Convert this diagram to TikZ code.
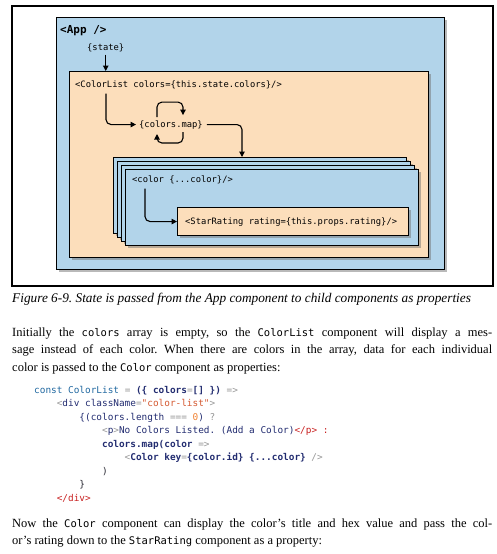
\documentclass[tikz,border=0pt]{standalone}
\usepackage{fontspec}
\setmainfont{Liberation Serif}
\setmonofont{DejaVu Sans Mono}
\usetikzlibrary{arrows.meta,shadows,positioning}

\definecolor{appblue}{RGB}{178,212,234}
\definecolor{listpeach}{RGB}{252,222,187}
\definecolor{kwblue}{RGB}{32,104,160}
\definecolor{navy}{RGB}{34,44,112}
\definecolor{punct}{RGB}{150,150,150}
\definecolor{strorange}{RGB}{212,88,48}
\definecolor{numorange}{RGB}{240,130,50}
\definecolor{tagred}{RGB}{200,32,32}
\definecolor{codedark}{RGB}{40,40,50}

\newcommand\inl[1]{{\fontsize{10.5pt}{17.5pt}\selectfont\ttfamily #1}}
\newcommand\ind{\hspace*{2.408em}}
\frenchspacing

\begin{document}
\begin{tikzpicture}
  [x=1pt,y=-1pt,>={Triangle[length=5.5pt,width=5.5pt]},
   box/.style={draw=black,line width=1.1pt,anchor=north west,inner sep=0pt,
     drop shadow={shadow xshift=2pt,shadow yshift=-2pt,opacity=.5,fill=black!55}},
   blue box/.style={box,fill=appblue},
   peach box/.style={box,fill=listpeach},
   tag/.style={font=\fontsize{8.8pt}{10pt}\selectfont\ttfamily,anchor=base west,inner sep=0pt},
   flow/.style={->,line width=1.1pt,rounded corners=5pt},
   body/.style={font=\fontsize{12.5pt}{17.5pt}\selectfont\frenchspacing,anchor=base west,inner sep=0pt,
     text width=480pt,align=justify}]

  \useasboundingbox (0,0) rectangle (497,554);

  % figure frame
  \draw [line width=1.1pt] (12,6) rectangle (493,286);

  % components
  \node [blue box,minimum width=388pt,minimum height=252pt]  (app)  at (56,17)  {};
  \node [peach box,minimum width=359pt,minimum height=186pt] (list) at (69,71)  {};
  \foreach \k in {0,...,3}
    \node [blue box,minimum width=293pt,minimum height=76pt] (card\k) at (113+4*\k,157+4*\k) {};
  \node [peach box,minimum width=231pt,minimum height=28pt]  (stars) at (177,207) {};

  % labels
  \node [tag,font=\fontsize{11pt}{12pt}\selectfont\ttfamily\bfseries] (applabel) at (60,33) {<App />};
  \node [tag] (statelabel) at (87,50)  {\{state\}};
  \node [tag] (listlabel)  at (75,87)  {<ColorList colors=\{this.state.colors\}/>};
  \node [tag] (maplabel)   at (139,127) {\{colors.map\}};
  \node [tag] (cardlabel)  at (132,182) {<color \{...color\}/>};
  \node [tag] (starlabel)  at (185,224) {<StarRating rating=\{this.props.rating\}/>};

  % data flow
  \draw [flow] ([yshift=-3pt]statelabel.south) -- (statelabel.south |- list.north);
  \draw [flow] ([xshift=31pt,yshift=-5pt]listlabel.south west) |- ([xshift=-3pt]maplabel.west);
  \draw [flow] ([xshift=18pt,yshift=3pt]maplabel.north west) -- ++(0,-15)
    -| ([xshift=44pt,yshift=5pt]maplabel.north west);
  \draw [flow] ([xshift=44pt,yshift=-3pt]maplabel.south west) -- ++(0,11)
    -| ([xshift=18pt,yshift=-5pt]maplabel.south west);
  \draw [flow] ([xshift=4pt]maplabel.east) -| ([xshift=129pt]card0.north west);
  \draw [flow] ([xshift=13pt,yshift=-5pt]cardlabel.south west) |- (stars.west);

  % caption and text
  \node [anchor=base west,inner sep=0pt,font=\fontsize{13.3pt}{15pt}\selectfont\itshape]
    (caption) at (12,302)
    {Figure 6-9. State is passed from the App component to child components as properties};

  \node [body] (para1) at (12,336)
    {Initially the \inl{colors} array is empty, so the \inl{ColorList} component will display a mes-\linebreak
     sage instead of each color. When there are colors in the array, data for each individual\linebreak
     color is passed to the \inl{Color} component as properties:};

  \node [anchor=base west,inner sep=0pt,text width=440pt,align=left,
         font=\fontsize{9.4pt}{13.45pt}\selectfont\ttfamily] (code) at (34,393.5)
    {\spaceskip=5.66pt\xspaceskip=5.66pt\relax
     \textcolor{kwblue}{const ColorList} \textcolor{punct}{=} \textcolor{navy}{\bfseries(\{ colors}\textcolor{punct}{=}\textcolor{navy}{\bfseries[] \})} \textcolor{punct}{=>}\\
     \ind\textcolor{punct}{<}\textcolor{navy}{div className}\textcolor{punct}{=}\textcolor{strorange}{"color-list"}\textcolor{punct}{>}\\
     \ind\ind\textcolor{navy}{\{(colors.length} \textcolor{punct}{===} \textcolor{numorange}{0}\textcolor{navy}{)} \textcolor{punct}{?}\\
     \ind\ind\ind\textcolor{punct}{<}\textcolor{navy}{p}\textcolor{punct}{>}\textcolor{navy}{No Colors Listed. (Add a Color)}\textcolor{tagred}{</p> :}\\
     \ind\ind\ind\textcolor{navy}{\bfseries colors.map(color} \textcolor{punct}{=>}\\
     \ind\ind\ind\ind\textcolor{punct}{<}\textcolor{navy}{\bfseries Color key}\textcolor{punct}{=}\textcolor{navy}{\bfseries\{color.id\} \{...color\}} \textcolor{punct}{/>}\\
     \ind\ind\ind\textcolor{codedark}{)}\\
     \ind\ind\textcolor{codedark}{\}}\\
     \ind\textcolor{tagred}{</div>}};

  \node [body] (para2) at (12,527)
    {Now the \inl{Color} component can display the color’s title and hex value and pass the col-\linebreak
     or’s rating down to the \inl{StarRating} component as a property:};

\end{tikzpicture}
\end{document}
